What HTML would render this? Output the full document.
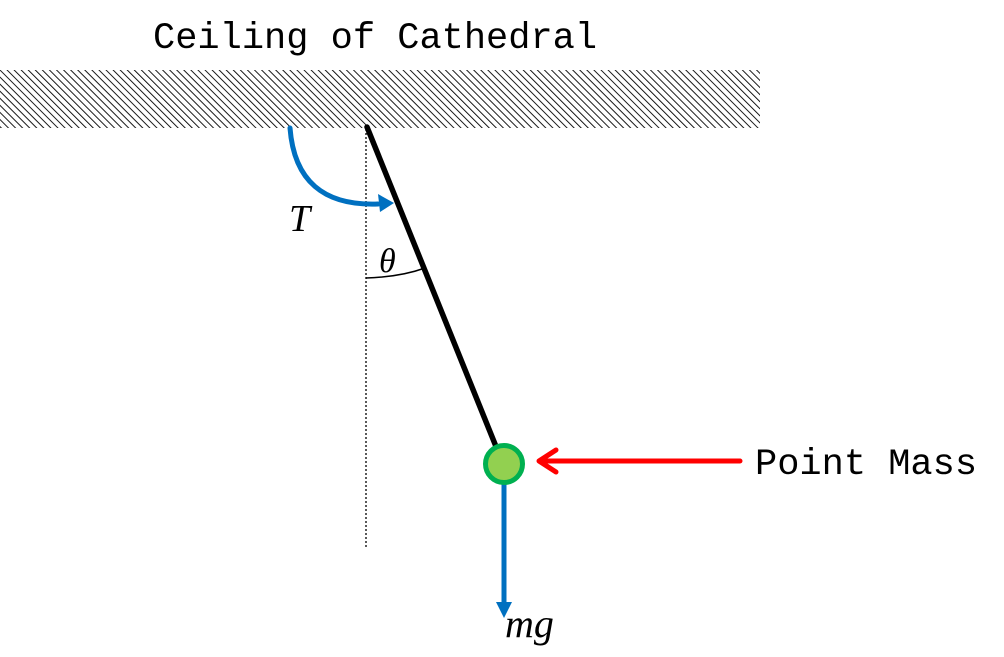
<!DOCTYPE html>
<html><head><meta charset="utf-8"><style>
html,body{margin:0;padding:0;background:#fff;}
svg{display:block;}
</style></head><body>
<svg width="1004" height="657" viewBox="0 0 1004 657" xmlns="http://www.w3.org/2000/svg">
<defs>
<pattern id="h" width="5" height="5" patternUnits="userSpaceOnUse" patternTransform="rotate(-45)">
<rect width="5" height="5" fill="#fff"/>
<line x1="0" y1="0" x2="0" y2="5" stroke="#000" stroke-width="1.8"/>
</pattern>
</defs>
<rect x="0" y="70" width="760" height="58" fill="url(#h)"/>
<text x="153" y="48" font-family="Liberation Mono, monospace" font-size="37" fill="#000">Ceiling of Cathedral</text>
<line x1="366" y1="129" x2="366" y2="548" stroke="#000" stroke-width="1.3" stroke-dasharray="2,2"/>
<line x1="367" y1="127" x2="497" y2="449" stroke="#000" stroke-width="5.5" stroke-linecap="round"/>
<path d="M290,128 Q296,207 378,204" fill="none" stroke="#0070c0" stroke-width="5" stroke-linecap="round"/>
<polygon points="394,203 378,194 380,212" fill="#0070c0"/>
<text x="289" y="231" font-family="Liberation Serif, serif" font-style="italic" font-size="38">T</text>
<path d="M366,278 Q400,277 425,268" fill="none" stroke="#000" stroke-width="1.5"/>
<text x="379" y="272" font-family="Liberation Serif, serif" font-style="italic" font-size="34">θ</text>
<line x1="504" y1="483" x2="504" y2="605" stroke="#0070c0" stroke-width="5"/>
<polygon points="496,602 512,602 504,618" fill="#0070c0"/>
<text x="505" y="637" font-family="Liberation Serif, serif" font-style="italic" font-size="40">mg</text>
<circle cx="504" cy="464" r="18.5" fill="#92d050" stroke="#00b050" stroke-width="5"/>
<line x1="740" y1="461" x2="546" y2="461" stroke="#ff0000" stroke-width="5" stroke-linecap="round"/>
<polyline points="556,450 539,461 556,472" fill="none" stroke="#ff0000" stroke-width="5" stroke-linecap="round" stroke-linejoin="round"/>
<text x="755" y="474" font-family="Liberation Mono, monospace" font-size="37" fill="#000">Point Mass</text>
</svg>
</body></html>
